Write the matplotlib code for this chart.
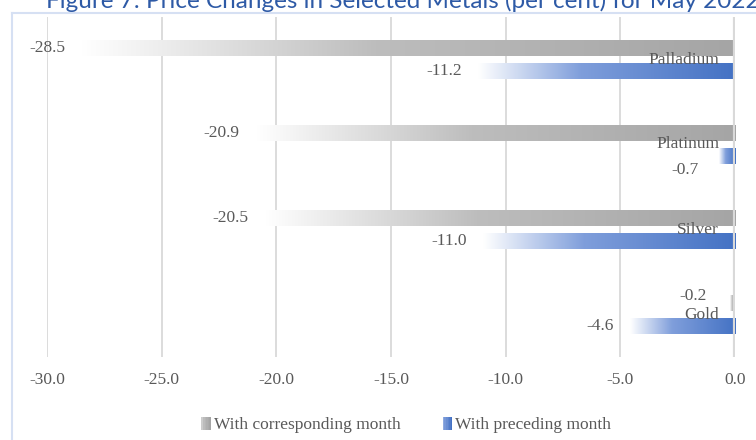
import numpy as np
import matplotlib
matplotlib.use("Agg")
import matplotlib.pyplot as plt
from matplotlib.colors import LinearSegmentedColormap
from matplotlib.lines import Line2D
from matplotlib.patches import Rectangle
from matplotlib.legend_handler import HandlerBase

metals = ["Palladium", "Platinum", "Silver", "Gold"]
corresponding = [-28.5, -20.9, -20.5, -0.2]
preceding = [-11.2, -0.7, -11.0, -4.6]
xticks = [-30.0, -25.0, -20.0, -15.0, -10.0, -5.0, 0.0]
series_names = ["With corresponding month", "With preceding month"]
title = "Figure 7: Price Changes in Selected Metals (per cent) for May 2022"

serif = "Liberation Serif"
text_grey = "#595959"

gray_cmap = LinearSegmentedColormap.from_list(
    "grey_fade", [(0, "#ffffff"), (0.45, "#bdbdbd"), (1, "#a5a5a5")])
blue_cmap = LinearSegmentedColormap.from_list(
    "blue_fade", [(0, "#ffffff"), (0.4, "#7f9edb"), (1, "#4472c4")])

fig = plt.figure(figsize=(7.56, 4.40), dpi=100)
ax = fig.add_axes([47 / 756, 83 / 440, 688 / 756, 340 / 440])

bar_h = 0.18
shift = 0.135
grad = np.linspace(0, 1, 256).reshape(1, -1)


def gradient_bar(y, value, cmap):
    # fill runs from white at the bar's tip to full colour at zero
    ax.imshow(grad[:, ::-1] if value > 0 else grad, cmap=cmap, aspect="auto",
              extent=[value, 0, y + bar_h / 2, y - bar_h / 2],
              interpolation="bilinear", zorder=3)


for i, (c, p) in enumerate(zip(corresponding, preceding)):
    gradient_bar(i - shift, c, gray_cmap)
    gradient_bar(i + shift, p, blue_cmap)

# data labels
for i, series in enumerate([corresponding, preceding]):
    off = -shift if i == 0 else shift
    for j, v in enumerate(series):
        y = j + off
        if v == -0.7:
            xy_off = (-20, -14)
        elif v == -0.2:
            xy_off = (-24, 7)
        else:
            xy_off = (-16, 0)
        ax.annotate(f"{v:.1f}", (v, y), xytext=xy_off, textcoords="offset pixels",
                    ha="right", va="center", fontsize=12.5, family=serif,
                    color=text_grey, zorder=5)

# category names sit next to the zero line
for j, name in enumerate(metals):
    ax.annotate(name, (0, j), xytext=(-16, 0), textcoords="offset pixels",
                ha="right", va="center", fontsize=12.5, family=serif,
                color=text_grey, zorder=5)

ax.set_xlim(-30, 0)
ax.set_ylim(3.5, -0.5)
ax.set_xticks(xticks)
ax.set_xticklabels([f"{t:.1f}" for t in xticks], family=serif, fontsize=12.5,
                   color=text_grey)
ax.tick_params(axis="x", length=0, pad=11)
ax.set_yticks([])
for t in xticks[:-1]:
    ax.axvline(t, color="#d9d9d9", lw=1.3, zorder=1)
ax.axvline(0, color="#d9d9d9", lw=3, zorder=4)
for s in ax.spines.values():
    s.set_visible(False)


class GradientHandle(HandlerBase):
    def __init__(self, cmap):
        super().__init__()
        self.cmap = cmap

    def create_artists(self, legend, orig_handle, xd, yd, width, height,
                       fontsize, trans):
        n = 6
        w = 7.0
        x0 = xd + width - w
        arts = []
        for k in range(n):
            arts.append(Rectangle((x0 + k * w / n, yd - 1), w / n, height + 1,
                                  facecolor=self.cmap(0.35 + 0.65 * k / (n - 1)),
                                  edgecolor="none", transform=trans))
        return arts


h1 = Rectangle((0, 0), 1, 1)
h2 = Rectangle((0, 0), 1, 1)
leg = fig.legend([h1, h2], series_names, loc="center",
                 bbox_to_anchor=(405 / 756, 1 - 425 / 440), ncol=2, frameon=False,
                 handler_map={h1: GradientHandle(gray_cmap),
                              h2: GradientHandle(blue_cmap)},
                 prop={"family": serif, "size": 12.5}, handlelength=0.7,
                 handletextpad=0.15, columnspacing=2.3)
for t in leg.get_texts():
    t.set_color(text_grey)

# light border of the figure box
frame_col = "#d6e0f3"
fig.add_artist(Line2D([12 / 756, 12 / 756], [0, 1 - 13 / 440], color=frame_col,
                      lw=1.5, transform=fig.transFigure))
fig.add_artist(Line2D([12 / 756, 1], [1 - 13 / 440, 1 - 13 / 440], color=frame_col,
                      lw=1.5, transform=fig.transFigure))

fig.text(46 / 756, 1 - 8 / 440, title, ha="left", va="baseline", fontsize=17.5,
         family="Lato", color="#2e5aa6")

fig.savefig("out.png", dpi=100)
